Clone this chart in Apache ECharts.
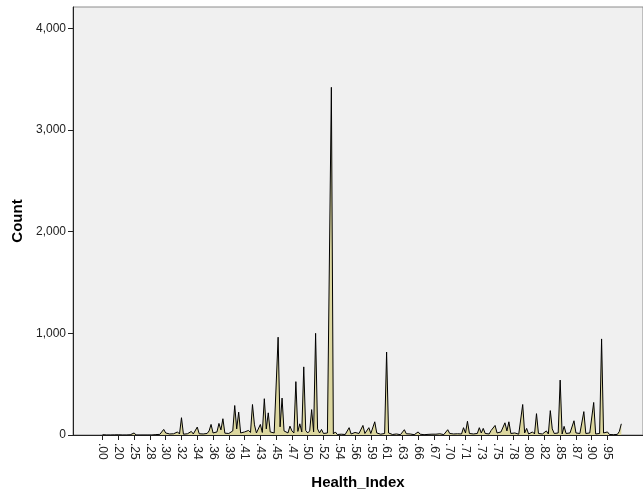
<!DOCTYPE html>
<html>
<head>
<meta charset="utf-8">
<script src="https://cdn.jsdelivr.net/npm/echarts@6/dist/echarts.min.js"></script>
<style>
  html, body { margin: 0; padding: 0; background: #fff; }
  #chart { width: 643px; height: 495px; }
</style>
</head>
<body>
<div id="chart"></div>
<script>
// 刻度标签（每 8 个取值显示一个）
const tickLabels = ['.00', '.20', '.25', '.28', '.30', '.32', '.34', '.36', '.39', '.41', '.43',
  '.45', '.47', '.50', '.52', '.54', '.56', '.59', '.61', '.63', '.66', '.67', '.70', '.71',
  '.73', '.75', '.78', '.80', '.82', '.85', '.87', '.90', '.95'];
const labelStep = 8;

// 每个 Health_Index 取值的频数（按顺序）
const counts = [
  3, 0, 0, 2, 0, 0, 1, 0,
  2, 0, 0, 3, 0, 0, 2, 0,
  20, 0, 4, 0, 12, 0, 5, 0,
  8, 0, 10, 4, 15, 6, 12, 55,
  20, 6, 10, 4, 12, 8, 30, 10,
  170, 8, 5, 12, 20, 35, 10, 15,
  78, 12, 20, 10, 25, 15, 40, 104,
  20, 15, 30, 114, 50, 160, 18, 10,
  15, 25, 40, 290, 60, 225, 20, 10,
  30, 15, 45, 25, 300, 100, 20, 25,
  104, 25, 357, 60, 218, 30, 40, 20,
  30, 962, 80, 363, 40, 30, 20, 87,
  40, 20, 525, 35, 110, 30, 670, 45,
  20, 40, 250, 30, 1000, 60, 20, 55,
  15, 10, 20, 5, 3420, 10, 30, 5,
  10, 8, 15, 5, 20, 72, 10, 15,
  25, 8, 15, 10, 94, 15, 10, 72,
  15, 10, 130, 20, 10, 8, 5, 15,
  816, 20, 10, 5, 8, 10, 5, 3,
  10, 52, 12, 5, 10, 6, 3, 8,
  30, 8, 5, 3, 10, 6, 4, 8,
  25, 8, 5, 12, 6, 4, 10, 52,
  15, 8, 10, 5, 12, 20, 10, 72,
  20, 135, 15, 8, 10, 20, 15, 72,
  20, 65, 15, 25, 10, 45, 30, 94,
  20, 15, 30, 40, 120, 40, 130, 15,
  10, 20, 15, 8, 10, 300, 20, 65,
  10, 15, 30, 10, 210, 15, 30, 10,
  15, 40, 10, 240, 60, 15, 10, 20,
  540, 10, 85, 15, 10, 20, 30, 140,
  20, 10, 15, 8, 230, 15, 10, 20,
  35, 320, 10, 20, 15, 945, 20, 8,
  30, 5, 8, 3, 10, 6, 35, 110
];

const yTicks = [0, 1000, 2000, 3000, 4000];

const chart = echarts.init(document.getElementById('chart'));

const tickPositions = tickLabels.map((_, k) => k * labelStep);

const option = {
  animation: false,
  textStyle: { fontFamily: 'Liberation Sans, Arial, sans-serif' },
  grid: {
    left: 73, top: 7, right: 0, bottom: 54,
    show: true,
    backgroundColor: '#f0f0f0',
    borderColor: '#8c8c8c',
    borderWidth: 1
  },
  xAxis: {
    type: 'value',
    min: -15,
    max: 274,
    name: 'Health_Index',
    nameLocation: 'middle',
    nameGap: 40,
    nameTextStyle: { fontSize: 15, fontWeight: 'bold', color: '#000' },
    axisLine: { show: true, onZero: false, lineStyle: { color: '#222', width: 1 } },
    axisTick: { show: true, length: 5, customValues: tickPositions, lineStyle: { color: '#222' } },
    axisLabel: {
      customValues: tickPositions,
      rotate: -90,
      fontSize: 12,
      color: '#222',
      margin: 8,
      formatter: v => tickLabels[Math.round(v / labelStep)] || ''
    },
    splitLine: { show: false }
  },
  yAxis: {
    type: 'value',
    min: 0,
    max: 4210,
    name: 'Count',
    nameLocation: 'middle',
    nameGap: 45,
    nameTextStyle: { fontSize: 15, fontWeight: 'bold', color: '#000' },
    axisLine: { show: true, onZero: false, lineStyle: { color: '#222', width: 1 } },
    axisTick: { show: true, length: 5, customValues: yTicks, lineStyle: { color: '#222' } },
    axisLabel: {
      customValues: yTicks,
      fontSize: 12,
      color: '#222',
      margin: 7,
      formatter: v => v.toLocaleString('en-US')
    },
    splitLine: { show: false }
  },
  series: [{
    type: 'line',
    data: counts.map((c, i) => [i, c]),
    showSymbol: false,
    symbol: 'none',
    lineStyle: { color: '#000', width: 1 },
    areaStyle: { color: '#dcd79f', opacity: 1 }
  }]
};

chart.setOption(option);
</script>
</body>
</html>
